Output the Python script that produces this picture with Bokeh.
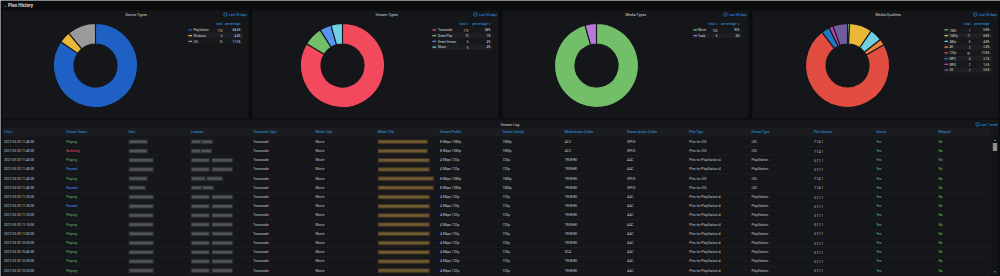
import math
from bokeh.plotting import figure
from bokeh.models import Range1d
from bokeh.core.properties import value
from bokeh.embed import file_html
from bokeh.resources import INLINE

W, H = 1000, 276

# ---------------- data ----------------
device_labels = ["PlayStation", "Windows", "iOS"]
device_totals = [115, 6, 15]

stream_labels = ["Transcode", "Direct Play", "Direct Stream", "Music"]
stream_totals = [113, 10, 6, 6]

media_labels = ["Movie", "Track"]
media_totals = [130, 6]

quality_labels = ["1080", "1080p", "480p", "4K", "720p", "MP3", "MP4", "SD"]
quality_totals = [1, 11, 6, 3, 91, 4, 2, 7]

log_columns = ["Time \u2193", "Stream Status", "User", "Location", "Transcode Type",
               "Media Type", "Media Title", "Stream Profile", "Stream Quality",
               "Media Audio Codec", "Stream Audio Codec", "Plex Type", "Device Type",
               "Plex Version", "Secure", "Relayed"]

log_time = ["2021-03-20 11:40:00", "2021-03-20 11:40:00", "2021-03-20 11:40:00",
            "2021-03-20 11:40:00", "2021-03-20 11:40:00", "2021-03-20 11:40:00",
            "2021-03-20 11:30:00", "2021-03-20 11:30:00", "2021-03-20 11:20:00",
            "2021-03-20 11:10:00", "2021-03-20 11:00:00", "2021-03-20 10:50:00",
            "2021-03-20 10:40:00", "2021-03-20 10:30:00", "2021-03-20 10:20:00"]
log_status = ["Playing", "Buffering", "Playing", "Paused", "Playing", "Paused",
              "Playing", "Paused", "Playing", "Playing", "Playing", "Playing",
              "Playing", "Playing", "Playing"]
log_transcode = ["Transcode"] * 15
log_media_type = ["Movie"] * 15
log_profile = ["8 Mbps 1080p", "8 Mbps 1080p", "4 Mbps 720p", "4 Mbps 720p",
               "8 Mbps 1080p", "8 Mbps 1080p", "4 Mbps 720p", "4 Mbps 720p",
               "4 Mbps 720p", "4 Mbps 720p", "4 Mbps 720p", "4 Mbps 720p",
               "4 Mbps 720p", "4 Mbps 720p", "4 Mbps 720p"]
log_quality = ["1080p", "1080p", "720p", "720p", "1080p", "1080p", "720p", "720p",
               "720p", "720p", "720p", "720p", "720p", "720p", "720p"]
log_media_audio = ["AC3", "AC3", "TRUEHD", "TRUEHD", "TRUEHD", "TRUEHD", "TRUEHD",
                   "TRUEHD", "TRUEHD", "TRUEHD", "TRUEHD", "TRUEHD", "DCA",
                   "TRUEHD", "TRUEHD"]
log_stream_audio = ["OPUS", "OPUS", "AAC", "AAC", "OPUS", "OPUS", "AAC", "AAC",
                    "AAC", "AAC", "AAC", "AAC", "AAC", "AAC", "AAC"]
log_plex_type = ["Plex for iOS", "Plex for iOS", "Plex for PlayStation 4",
                 "Plex for PlayStation 4", "Plex for iOS", "Plex for iOS",
                 "Plex for PlayStation 4", "Plex for PlayStation 4",
                 "Plex for PlayStation 4", "Plex for PlayStation 4",
                 "Plex for PlayStation 4", "Plex for PlayStation 4",
                 "Plex for PlayStation 4", "Plex for PlayStation 4",
                 "Plex for PlayStation 4"]
log_device = ["iOS", "iOS", "PlayStation", "PlayStation", "iOS", "iOS", "PlayStation",
              "PlayStation", "PlayStation", "PlayStation", "PlayStation",
              "PlayStation", "PlayStation", "PlayStation", "PlayStation"]
log_version = ["7.14.1", "7.14.1", "5.11.1", "5.11.1", "7.14.1", "7.14.1", "5.11.1",
               "5.11.1", "5.11.1", "5.11.1", "5.11.1", "5.11.1", "5.11.1", "5.11.1",
               "5.11.1"]
log_secure = ["Yes"] * 15
log_relayed = ["No"] * 15

# ---------------- styling ----------------
PAGE = "#0b0c0e"
PANEL = "#141619"
TEXT = "#d8d9da"
CELL = "#c7c9cc"
LINK = "#33a2e5"
FONT = "Roboto"

device_colors = ["#1f60c4", "#eab839", "#9a9a9a"]
stream_colors = ["#f2495c", "#73bf69", "#5794f2", "#6ed0e0"]
media_colors = ["#73bf69", "#b877d9"]
quality_colors = ["#7eb26d", "#eab839", "#6ed0e0", "#ef843c", "#e24d42",
                  "#1f78c1", "#ba43a9", "#705da0"]
status_colors = {"Playing": "#73bf69", "Buffering": "#f2495c", "Paused": "#5794f2"}

# widths of the masked (blurred) cells: user, location, title
mask_user = [17, 17, 23, 23, 17, 15, 23, 23, 23, 23, 23, 23, 23, 23, 23]
mask_loc = [20, 19, 40, 40, 30, 21, 40, 40, 40, 40, 40, 40, 40, 40, 40]
mask_title = [48, 48, 50, 50, 54, 54, 50, 50, 50, 50, 50, 50, 50, 50, 50]

p = figure(width=W, height=H, x_range=Range1d(0, W), y_range=Range1d(0, H),
           output_backend="svg", toolbar_location=None, min_border=0,
           x_axis_type=None, y_axis_type=None,
           background_fill_color=PAGE, border_fill_color=PAGE,
           outline_line_color=None)
p.grid.visible = False


def sy(y):
    return H - y


def txt(xs, ys, texts, color, size, align="left", style="normal", font=FONT):
    p.text(x=list(xs), y=[sy(v) for v in ys], text=list(texts), text_color=color,
           text_font=value(font), text_font_size=value(f"{size}px"),
           text_align=align, text_baseline="middle", text_font_style=style)


def box(x0, x1, y0, y1, color, alpha=1.0):
    p.quad(left=[x0], right=[x1], top=[sy(y0)], bottom=[sy(y1)],
           fill_color=color, fill_alpha=alpha, line_color=None)


def clock_label(x_right, y, label):
    txt([x_right], [y], [label], LINK, 3.2, align="right")
    icon_x = x_right - 1.62 * len(label) - 2.2
    p.scatter(x=[icon_x], y=[sy(y)], size=3.4, marker="circle",
              fill_color=None, line_color=LINK, line_width=0.6)


# page header
txt([3], [4.5], ["\u2304"], TEXT, 4.2, font="DejaVu Sans")
txt([7.5], [4.5], ["Plex History"], TEXT, 4.6, style="bold")

# ---------------- pie panels ----------------
pies = [
    dict(x0=2, x1=248, title="Device Types", labels=device_labels,
         totals=device_totals, colors=device_colors, dec=1, arrows=False,
         cx=95, sw=188, lab=193, tot=222, pct=240, b0=187, b1=243),
    dict(x0=252, x1=498, title="Stream Types", labels=stream_labels,
         totals=stream_totals, colors=stream_colors, dec=0, arrows=True,
         cx=342, sw=432, lab=437.5, tot=468, pct=490, b0=431, b1=492),
    dict(x0=502, x1=748, title="Media Types", labels=media_labels,
         totals=media_totals, colors=media_colors, dec=0, arrows=True,
         cx=596, sw=693, lab=697.5, tot=717, pct=739, b0=692, b1=742),
    dict(x0=752, x1=998, title="Media Qualities", labels=quality_labels,
         totals=quality_totals, colors=quality_colors, dec=1, arrows=False,
         cx=847, sw=944, lab=949, tot=970, pct=989, b0=943, b1=992),
]

CY, R_OUT, R_IN = 65, 42, 21.5
for cfg in pies:
    box(cfg["x0"], cfg["x1"], 10, 117.5, PANEL)
    txt([(cfg["x0"] + cfg["x1"]) / 2], [14], [cfg["title"]], TEXT, 3.7)
    clock_label(cfg["x1"] - 1.5, 14, "Last 30 days")

    totals = cfg["totals"]
    n = len(totals)
    grand = sum(totals)
    starts, ends, acc = [], [], 0
    for t in totals:
        f0 = acc / grand
        acc += t
        f1 = acc / grand
        starts.append(math.pi / 2 - f1 * 2 * math.pi)
        ends.append(math.pi / 2 - f0 * 2 * math.pi)
    p.annular_wedge(x=[cfg["cx"]] * n, y=[sy(CY)] * n, inner_radius=R_IN,
                    outer_radius=R_OUT, start_angle=starts, end_angle=ends,
                    direction="anticlock", fill_color=cfg["colors"],
                    line_color=PANEL, line_width=1.1)

    # legend table
    arrow = " \u25be" if cfg["arrows"] else ""
    txt([cfg["tot"]], [23.7], ["total" + arrow], LINK, 3.1, align="right")
    txt([cfg["pct"]], [23.7], ["percentage" + arrow], LINK, 3.1, align="right")
    rows_y = [29.3 + 5.75 * i for i in range(n)]
    for i, yy in enumerate(rows_y):
        shade = "#1d1f23" if i % 2 == 1 else "#17191c"
        box(cfg["b0"], cfg["b1"], yy - 2.6, yy + 2.6, shade)
    p.rect(x=[cfg["sw"] + 1.8] * n, y=[sy(v) for v in rows_y], width=3.6,
           height=1.3, fill_color=cfg["colors"], line_color=None)
    txt([cfg["lab"]] * n, rows_y, cfg["labels"], TEXT, 3.0)
    txt([cfg["tot"]] * n, rows_y, [str(t) for t in totals], TEXT, 3.0, align="right")
    if cfg["dec"]:
        pcts = [f"{100 * t / grand:.1f}%" for t in totals]
    else:
        pcts = [f"{round(100 * t / grand)}%" for t in totals]
    txt([cfg["pct"]] * n, rows_y, pcts, TEXT, 3.0, align="right")

# ---------------- stream log table ----------------
box(2, 998, 119, 274.5, PANEL)
txt([500], [124], ["Stream Log"], TEXT, 3.7)
clock_label(997, 124, "Last 1 week")

col_x = [3.5 + i * 62.3 for i in range(len(log_columns))]
box(2, 990, 127.5, 135.5, "#1a1c20")
txt(col_x, [131.3] * len(col_x), log_columns, LINK, 3.3)

n_rows = len(log_time)
row_y = [141.3 + 9.2 * i for i in range(n_rows)]

# row separators
p.segment(x0=[2] * (n_rows + 1), x1=[990] * (n_rows + 1),
          y0=[sy(136.7 + 9.2 * i) for i in range(n_rows + 1)],
          y1=[sy(136.7 + 9.2 * i) for i in range(n_rows + 1)],
          line_color="#202226", line_width=0.6)


def smudge(lefts, widths, color, core_alpha):
    # soft smudges standing in for redacted cell contents
    for grow, alpha in ((3.0, core_alpha * 0.25), (1.6, core_alpha * 0.5),
                        (0.0, core_alpha)):
        p.rect(x=[x + w / 2 for x, w in zip(lefts, widths)],
               y=[sy(v) for v in row_y],
               width=[w + grow for w in widths], height=2.5 + grow,
               fill_color=color, fill_alpha=alpha, line_color=None)


smudge([col_x[2] + 1] * n_rows, mask_user, "#7c7e83", 0.42)
# location cells read "city - region": two smudges with a gap
smudge([col_x[3] + 1] * n_rows, [w * 0.42 for w in mask_loc], "#7c7e83", 0.42)
smudge([col_x[3] + 1 + w * 0.52 for w in mask_loc], [w * 0.48 for w in mask_loc],
       "#7c7e83", 0.42)
smudge([col_x[6] + 1] * n_rows, mask_title, "#a07a3c", 0.5)

txt([col_x[0]] * n_rows, row_y, log_time, CELL, 3.3)
txt([col_x[1]] * n_rows, row_y, log_status,
    [status_colors[s] for s in log_status], 3.3)
txt([col_x[4]] * n_rows, row_y, log_transcode, CELL, 3.3)
txt([col_x[5]] * n_rows, row_y, log_media_type, CELL, 3.3)
txt([col_x[7]] * n_rows, row_y, log_profile, CELL, 3.3)
txt([col_x[8]] * n_rows, row_y, log_quality, CELL, 3.3)
txt([col_x[9]] * n_rows, row_y, log_media_audio, CELL, 3.3)
txt([col_x[10]] * n_rows, row_y, log_stream_audio, CELL, 3.3)
txt([col_x[11]] * n_rows, row_y, log_plex_type, CELL, 3.3)
txt([col_x[12]] * n_rows, row_y, log_device, CELL, 3.3)
txt([col_x[13]] * n_rows, row_y, log_version, CELL, 3.3)
txt([col_x[14]] * n_rows, row_y, log_secure, "#73bf69", 3.3)
txt([col_x[15]] * n_rows, row_y, log_relayed, "#73bf69", 3.3)

# scrollbar
box(991.5, 997.5, 136, 273, "#111215")
txt([994.5], [139], ["\u25b4"], "#9a9a9a", 3.5, align="center", font="DejaVu Sans")
txt([994.5], [271], ["\u25be"], "#9a9a9a", 3.5, align="center", font="DejaVu Sans")
box(992.3, 996.7, 142.5, 150.5, "#8e8e8e")

open("out.html", "w").write(file_html(p, INLINE))
